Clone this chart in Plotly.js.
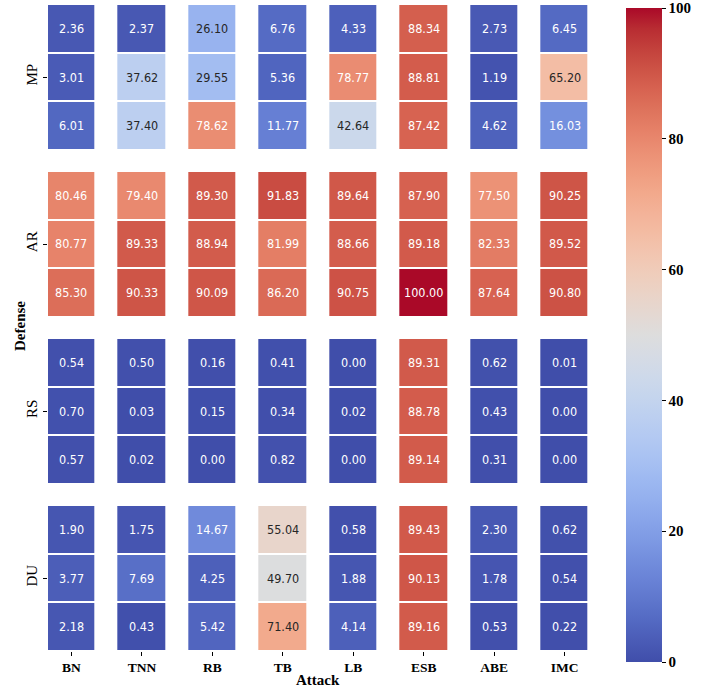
<!DOCTYPE html>
<html>
<head>
<meta charset="utf-8">
<script src="https://cdn.plot.ly/plotly-3.0.1.min.js"></script>
<style>body{margin:0;background:#fff;}</style>
</head>
<body>
<div id="chart" style="width:723px;height:688px;"></div>
<script>
// ---- data ----
const attacks = ['BN', 'TNN', 'RB', 'TB', 'LB', 'ESB', 'ABE', 'IMC'];
const defenses = ['MP', 'AR', 'RS', 'DU'];
const mpValues = [
  [2.36, 2.37, 26.10, 6.76, 4.33, 88.34, 2.73, 6.45],
  [3.01, 37.62, 29.55, 5.36, 78.77, 88.81, 1.19, 65.20],
  [6.01, 37.40, 78.62, 11.77, 42.64, 87.42, 4.62, 16.03]
];
const arValues = [
  [80.46, 79.40, 89.30, 91.83, 89.64, 87.90, 77.50, 90.25],
  [80.77, 89.33, 88.94, 81.99, 88.66, 89.18, 82.33, 89.52],
  [85.30, 90.33, 90.09, 86.20, 90.75, 100.00, 87.64, 90.80]
];
const rsValues = [
  [0.54, 0.50, 0.16, 0.41, 0.00, 89.31, 0.62, 0.01],
  [0.70, 0.03, 0.15, 0.34, 0.02, 88.78, 0.43, 0.00],
  [0.57, 0.02, 0.00, 0.82, 0.00, 89.14, 0.31, 0.00]
];
const duValues = [
  [1.90, 1.75, 14.67, 55.04, 0.58, 89.43, 2.30, 0.62],
  [3.77, 7.69, 4.25, 49.70, 1.88, 90.13, 1.78, 0.54],
  [2.18, 0.43, 5.42, 71.40, 4.14, 89.16, 0.53, 0.22]
];
const colorTicks = [0, 20, 40, 60, 80, 100];

// ---- colormap (coolwarm, slightly desaturated) ----
const coolwarm = [
  [59,76,192],[68,90,204],[77,104,215],[87,117,225],[98,130,234],[108,142,241],
  [119,154,247],[130,165,251],[141,176,254],[152,185,255],[163,194,255],[174,201,253],
  [184,208,249],[194,213,244],[204,217,238],[213,219,230],[221,221,221],[229,216,209],
  [236,211,197],[241,204,185],[245,196,173],[247,187,160],[247,177,148],[247,166,135],
  [244,154,123],[241,141,111],[236,127,99],[229,112,88],[222,96,77],[213,80,66],
  [203,62,56],[192,40,47],[180,4,38]
];
const colorscale = coolwarm.map((c, i) => {
  const t = i / (coolwarm.length - 1);
  const k = t <= 0.5 ? 0.2 : 0.08;
  const lum = 0.299 * c[0] + 0.587 * c[1] + 0.114 * c[2];
  const m = c.map(v => Math.round(v * (1 - k) + lum * k));
  return [t, `rgb(${m[0]},${m[1]},${m[2]})`];
});

const groups = [mpValues, arValues, rsValues, duValues];
const serif = 'Liberation Serif, DejaVu Serif, serif';
const cellFont = 'DejaVu Sans Condensed, Liberation Sans Narrow, DejaVu Sans, sans-serif';

// ---- geometry ----
const W = 723, H = 688;
const mL = 48, mR = 135, mT = 4, mB = 37;
const plotH = H - mT - mB;
const plotW = W - mL - mR;
const groupStep = 167, groupH = 146;

const traces = [];
const annotations = [];
const layout = {
  width: W, height: H,
  margin: {l: mL, r: mR, t: mT, b: mB, pad: 0},
  paper_bgcolor: '#ffffff', plot_bgcolor: '#ffffff',
  showlegend: false,
  xaxis: {
    anchor: 'y4', domain: [0, 1],
    range: [-1/3, 7 + 1/3],
    tickfont: {family: serif, size: 13.5, color: '#000', weight: 'bold'},
    ticks: 'outside', ticklen: 4, tickcolor: '#000', tickwidth: 1,
    showgrid: false, zeroline: false, showline: false
  },
  coloraxis: {
    cmin: 0, cmax: 100, colorscale: colorscale,
    colorbar: {
      thickness: 36, lenmode: 'pixels', len: 654,
      xanchor: 'left', x: (626 - mL) / plotW, xpad: 0,
      yanchor: 'top', y: 1 - (8 - mT) / plotH, ypad: 0,
      outlinewidth: 0,
      tickmode: 'array',
      tickvals: colorTicks,
      ticktext: colorTicks.map(String),
      ticklabeloverflow: 'allow',
      ticks: 'outside', ticklen: 4, tickcolor: '#000',
      tickfont: {family: serif, size: 15, color: '#000', weight: 'bold'}
    }
  },
  annotations: annotations
};

groups.forEach((vals, gi) => {
  const yName = gi === 0 ? 'y' : 'y' + (gi + 1);
  const axKey = gi === 0 ? 'yaxis' : 'yaxis' + (gi + 1);
  const top = gi * groupStep;
  layout[axKey] = {
    anchor: 'x',
    domain: [1 - (top + groupH) / plotH, 1 - top / plotH],
    range: [2.5, -0.5],
    tickvals: [1], ticktext: [defenses[gi]],
    tickangle: -90,
    tickfont: {family: serif, size: 15, color: '#000'},
    ticks: 'outside', ticklen: 4, tickcolor: '#000',
    showgrid: false, zeroline: false, showline: false
  };
  traces.push({
    type: 'heatmap',
    x: attacks, y: [0, 1, 2], z: vals,
    coloraxis: 'coloraxis',
    xgap: 23, ygap: 2,
    xaxis: 'x', yaxis: yName,
    hoverinfo: 'skip'
  });
  vals.forEach((row, r) => {
    row.forEach((v, c) => {
      const dark = v > 22 && v < 77;
      annotations.push({
        x: attacks[c], y: r, xref: 'x', yref: yName,
        text: v.toFixed(2), showarrow: false,
        font: {family: cellFont, size: 12.5, color: dark ? '#262626' : '#ffffff'}
      });
    });
  });
});

annotations.push({
  xref: 'paper', yref: 'paper',
  x: (20 - mL) / plotW, y: 1 - (326 - mT) / plotH,
  xanchor: 'center', yanchor: 'middle',
  text: 'Defense', textangle: -90, showarrow: false,
  font: {family: serif, size: 15, color: '#000', weight: 'bold'}
});
annotations.push({
  xref: 'paper', yref: 'paper',
  x: 0.5, y: 1 - (680 - mT) / plotH,
  xanchor: 'center', yanchor: 'middle',
  text: 'Attack', showarrow: false,
  font: {family: serif, size: 15, color: '#000', weight: 'bold'}
});

Plotly.newPlot('chart', traces, layout, {staticPlot: true, displayModeBar: false});
</script>
</body>
</html>
